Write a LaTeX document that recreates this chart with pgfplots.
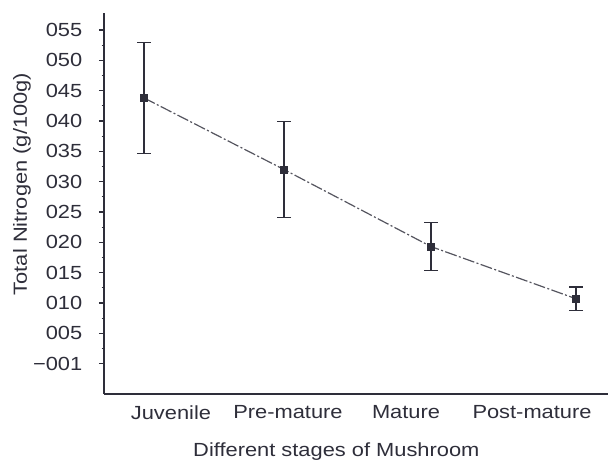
\documentclass[border=0pt]{standalone}
\usepackage{fontspec}
\setmainfont{Liberation Sans}[FakeStretch=1.15]
\usepackage{pgfplots}
\pgfplotsset{compat=1.18}
\definecolor{ink}{HTML}{2E2E3A}
\definecolor{trend}{HTML}{55555F}

\begin{document}
\fontsize{9.5}{11}\selectfont
\begin{tikzpicture}
\begin{axis}[
    name=ax,
    scale only axis,
    width=252pt, height=190.5pt,
    xmin=104, xmax=608,
    ymin=-5, ymax=57.8,
    axis lines=left,
    axis line style={ink, line width=0.8pt, -},
    ytick={0,5,...,55},
    yticklabels={−001,005,010,015,020,025,030,035,040,045,050,055},
    minor y tick num=1,
    tick align=outside,
    major tick length=2.5pt, minor tick length=1.2pt,
    y tick style={ink, line width=0.6pt},
    yticklabel style={xshift=-5pt},
    xtick={171,288,406,532},
    xticklabels={Juvenile,Pre-mature,Mature,Post-mature},
    x tick style={draw=none},
    tick label style={font=\fontsize{9.5}{11}\selectfont, text=ink},
    /pgf/number format/assume math mode=true,
    xlabel={Different stages of Mushroom},
    ylabel={Total Nitrogen (g/100g)},
    label style={font=\fontsize{9.5}{11}\selectfont, text=ink},
    xlabel style={at={(axis description cs:0.461,0)}, anchor=center, yshift=-29pt},
    ylabel style={at={(axis description cs:0,0.551)}, anchor=center, yshift=41pt},
]
\addplot[trend, line width=0.6pt,
    dash pattern=on 6pt off 1.2pt on 1pt off 1.2pt,
    mark=square*, mark size=1.7pt,
    mark options={solid, fill=ink, draw=ink},
    error bars/.cd, y dir=both, y explicit,
    error mark=|,
    error bar style={ink, line width=0.6pt, solid},
    error mark options={ink, mark size=3.5pt, line width=0.6pt, solid},
] coordinates {
    (144,43.8) +- (0,9.1)
    (284,32.0) +- (0,7.9)
    (431,19.3) +- (0,4.0)
    (576,10.7) +- (0,1.95)
};
\end{axis}
\pgfresetboundingbox
\path (ax.south west) ++(-52pt,-35pt) rectangle ++(305pt,232pt);
\end{tikzpicture}
\end{document}
